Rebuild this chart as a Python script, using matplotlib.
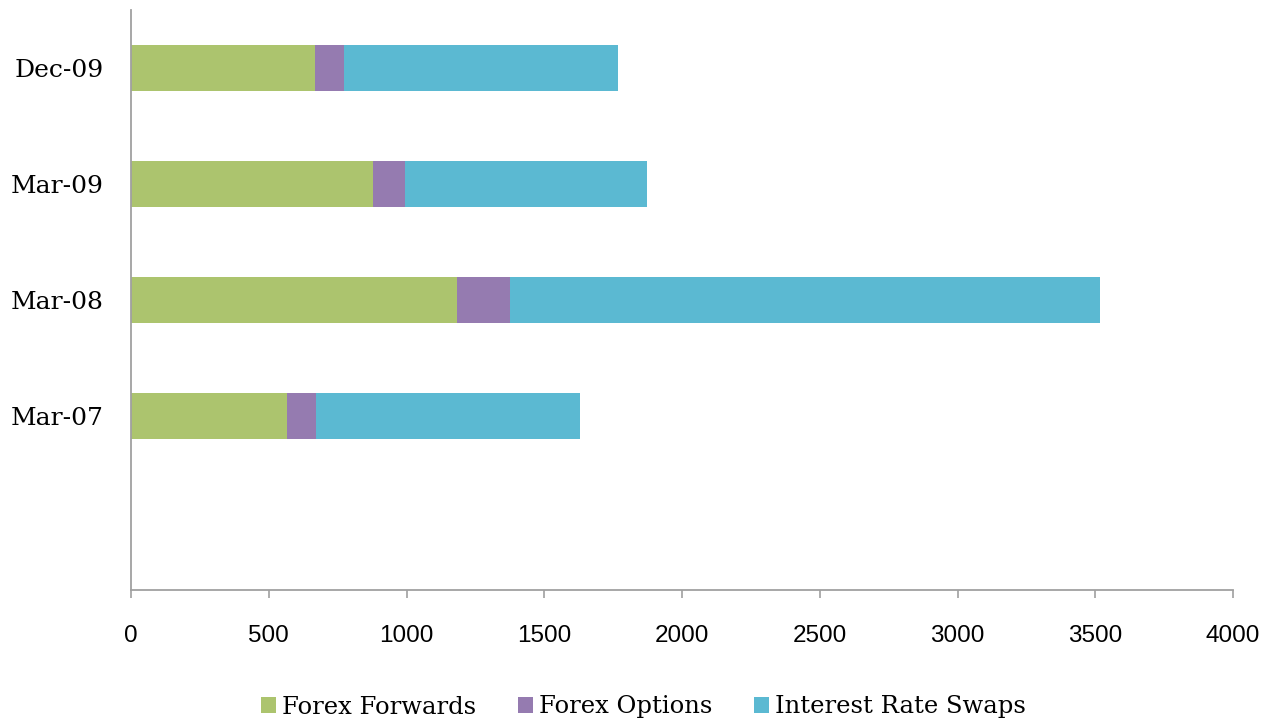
import matplotlib
matplotlib.use("Agg")
import matplotlib.pyplot as plt
import numpy as np

categories = ["", "Mar-07", "Mar-08", "Mar-09", "Dec-09"]
forex_forwards = [0, 566, 1185, 878, 668]
forex_options = [0, 105, 191, 116, 105]
interest_rate_swaps = [0, 958, 2142, 878, 995]
series_names = ["Forex Forwards", "Forex Options", "Interest Rate Swaps"]
colors = ["#ACC46E", "#957BB0", "#5BB9D2"]
xticks = [0, 500, 1000, 1500, 2000, 2500, 3000, 3500, 4000]

plt.rcParams['font.family'] = ['DejaVu Serif']

fig = plt.figure(figsize=(12.65, 7.22), dpi=100)
ax = fig.add_axes([131/1265, 132/722, (1233-131)/1265, (590-10)/722])

y = np.arange(len(categories))
ff = np.array(forex_forwards)
fo = np.array(forex_options)
irs = np.array(interest_rate_swaps)
h = 0.4
ax.barh(y, ff, height=h, color=colors[0], label=series_names[0])
ax.barh(y, fo, left=ff, height=h, color=colors[1], label=series_names[1])
ax.barh(y, irs, left=ff + fo, height=h, color=colors[2], label=series_names[2])

ax.set_ylim(-0.5, len(categories) - 0.5)
ax.set_xlim(0, 4000)
ax.set_xticks(xticks)
ax.set_xticklabels([str(t) for t in xticks], fontsize=17.5, family=['Liberation Sans'])
ax.set_yticks(y[1:])
ax.set_yticklabels(categories[1:], fontsize=18)

for s in ["top", "right"]:
    ax.spines[s].set_visible(False)
for s in ["left", "bottom"]:
    ax.spines[s].set_color("#A0A0A0")
    ax.spines[s].set_linewidth(1.3)
ax.tick_params(axis="x", length=6, color="#A0A0A0", width=1.2, pad=19)
ax.tick_params(axis="y", length=0, pad=20)

leg = fig.legend(loc="center", bbox_to_anchor=((262 + 1025) / 2 / 1265, 1 - 707/722), ncol=3,
                 frameon=False, fontsize=17.5, handlelength=0.62, handleheight=0.62,
                 handletextpad=0.25, columnspacing=1.7)

fig.savefig("out.png", dpi=100)
